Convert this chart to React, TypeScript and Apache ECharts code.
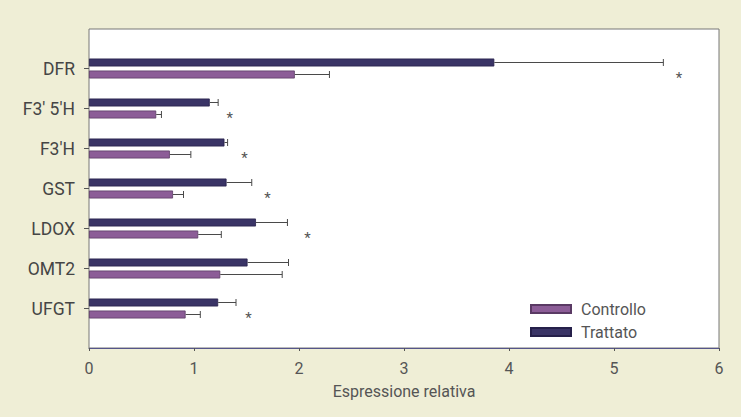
import React, { useEffect, useRef } from "react";
import * as echarts from "echarts";

const categories = ["DFR", "F3' 5'H", "F3'H", "GST", "LDOX", "OMT2", "UFGT"];
const trattato = [3.86, 1.15, 1.29, 1.31, 1.59, 1.51, 1.23];
const trattatoErr = [5.47, 1.23, 1.32, 1.55, 1.89, 1.90, 1.40];
const controllo = [1.96, 0.64, 0.77, 0.80, 1.04, 1.25, 0.92];
const controlloErr = [2.29, 0.69, 0.97, 0.90, 1.26, 1.84, 1.06];
// asterisk positions: [x value, category index]
const asterisks: [number, number][] = [
  [5.62, 0],
  [1.34, 1],
  [1.48, 2],
  [1.70, 3],
  [2.08, 4],
  [1.52, 6],
];
const xTicks = [0, 6, 1];

const C_TR = "#3a3466";
const C_CO = "#8c5d97";

export default function App() {
  const ref = useRef<HTMLDivElement>(null);
  useEffect(() => {
    if (!ref.current) return;
    const chart = echarts.init(ref.current, null, { renderer: "svg" });
    const font = "Roboto";
    const errSeries = (name: string, vals: number[], errs: number[], dy: number) => ({
      type: "custom",
      name: name + "_err",
      xAxisIndex: 1,
      yAxisIndex: 1,
      silent: true,
      z: 5,
      data: vals.map((v, i) => [v, i, errs[i]]),
      renderItem: (params: any, api: any) => {
        const idx = api.value(1);
        const p0 = api.coord([api.value(0), idx]);
        const p1 = api.coord([api.value(2), idx]);
        const y = p0[1] + dy;
        const st = { stroke: "#4a4a4a", lineWidth: 1 };
        return {
          type: "group",
          children: [
            { type: "line", shape: { x1: p0[0], y1: y, x2: p1[0], y2: y }, style: st },
            { type: "line", shape: { x1: p1[0], y1: y - 3.5, x2: p1[0], y2: y + 3.5 }, style: st },
          ],
        };
      },
    });
    chart.setOption({
      animation: false,
      backgroundColor: "#efeed6",
      textStyle: { fontFamily: font },
      legend: {
        orient: "vertical",
        left: 525,
        top: 296,
        itemWidth: 40,
        itemHeight: 8,
        itemGap: 7,
        data: ["Controllo", "Trattato"],
        icon: "rect",
        textStyle: { fontSize: 16, color: "#555", fontFamily: font, padding: [0, 0, 0, 5] },
      },
      grid: [
        {
          left: 89,
          top: 29,
          width: 630,
          height: 319,
          show: true,
          backgroundColor: "#ffffff",
          borderColor: "#777777",
          borderWidth: 1,
        },
        { left: 89, top: 48.5, width: 630, height: 280 },
      ],
      xAxis: [
        {
          type: "value",
          gridIndex: 0,
          min: xTicks[0],
          max: xTicks[1],
          interval: xTicks[2],
          name: "Espressione relativa",
          nameLocation: "middle",
          nameGap: 35,
          nameTextStyle: { fontSize: 16, color: "#555", fontFamily: font },
          axisLine: { show: true, lineStyle: { color: "#55558a", width: 1.2 } },
          axisTick: { show: true, length: 3, lineStyle: { color: "#555" } },
          axisLabel: { fontSize: 16, color: "#555", margin: 12, fontFamily: font },
          splitLine: { show: false },
        },
        {
          type: "value",
          gridIndex: 1,
          min: xTicks[0],
          max: xTicks[1],
          interval: xTicks[2],
          show: false,
        },
      ],
      yAxis: [
        { type: "value", gridIndex: 0, show: false },
        {
          type: "category",
          gridIndex: 1,
          data: categories,
          inverse: true,
          axisLine: { show: false },
          axisTick: { show: true, alignWithLabel: true, length: 5, lineStyle: { color: "#555" } },
          axisLabel: { fontSize: 17.5, color: "#454545", margin: 14, fontFamily: font },
          splitLine: { show: false },
        },
      ],
      series: [
        {
          type: "bar",
          name: "Trattato",
          xAxisIndex: 1,
          yAxisIndex: 1,
          data: trattato,
          barWidth: 8,
          barGap: "50%",
          itemStyle: { color: C_TR, borderColor: "#26204a", borderWidth: 0.8 },
        },
        {
          type: "bar",
          name: "Controllo",
          xAxisIndex: 1,
          yAxisIndex: 1,
          data: controllo,
          barWidth: 8,
          barGap: "50%",
          itemStyle: { color: C_CO, borderColor: "#5a3a64", borderWidth: 0.8 },
        },
        errSeries("Trattato", trattato, trattatoErr, -6),
        errSeries("Controllo", controllo, controlloErr, 6),
        {
          type: "custom",
          name: "asterisk",
          xAxisIndex: 1,
          yAxisIndex: 1,
          silent: true,
          data: asterisks,
          renderItem: (params: any, api: any) => {
            const p = api.coord([api.value(0), api.value(1)]);
            return {
              type: "text",
              x: p[0],
              y: p[1] + 9,
              style: {
                text: "*",
                fill: "#555",
                fontSize: 15,
                fontFamily: font,
                align: "center",
                verticalAlign: "middle",
              },
            };
          },
        },
      ],
    });
    return () => chart.dispose();
  }, []);
  return (
    <div
      ref={ref}
      style={{ position: "fixed", left: 0, top: 0, width: 741, height: 417 }}
    />
  );
}
